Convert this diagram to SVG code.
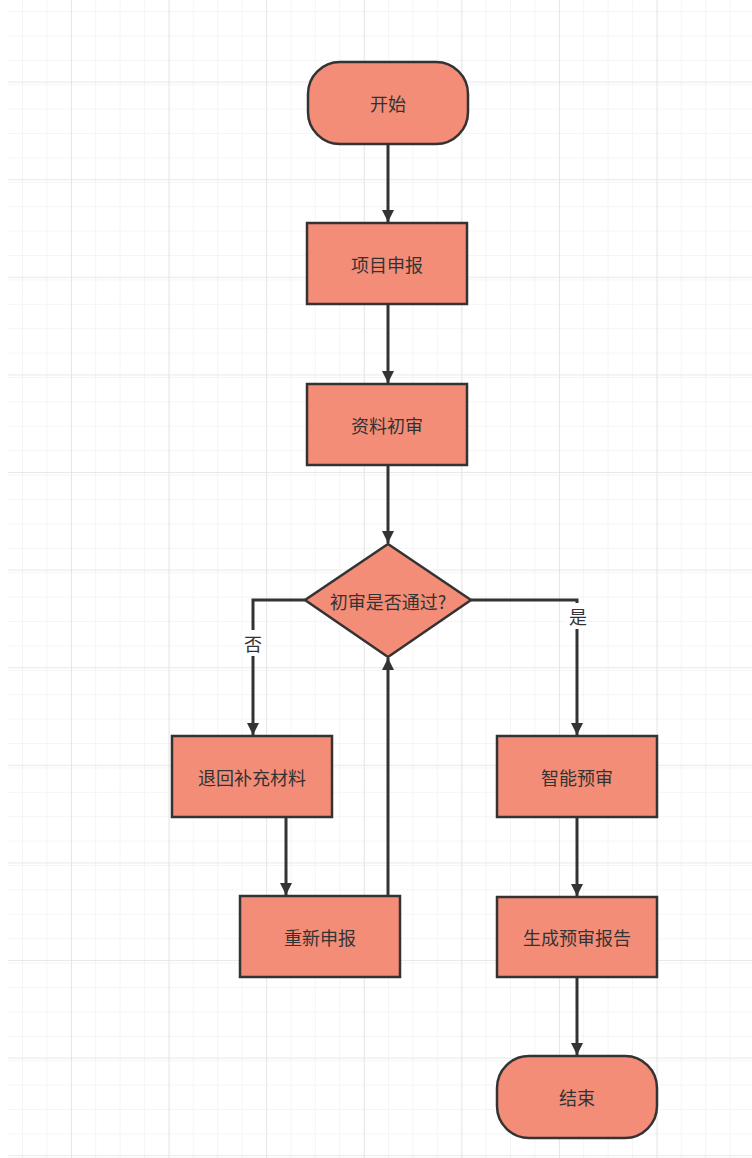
<svg xmlns="http://www.w3.org/2000/svg" width="752" height="1158" viewBox="0 0 752 1158">
<defs>
<pattern id="minor" x="-1.4" y="-12.4" width="24.4" height="24.4" patternUnits="userSpaceOnUse">
<path d="M24.4 0 V24.4 M0 24.4 H24.4" fill="none" stroke="#ececec" stroke-width="1"/>
</pattern>
<pattern id="major" x="-25.6" y="-15" width="97.6" height="97.6" patternUnits="userSpaceOnUse">
<path d="M97.6 0 V97.6 M0 97.6 H97.6" fill="none" stroke="#e2e2e2" stroke-width="1.5"/>
</pattern>
<marker id="arr" viewBox="0 0 12 20" refX="12" refY="10" markerWidth="12" markerHeight="20" markerUnits="userSpaceOnUse" orient="auto">
<path d="M0 4 L12 10 L0 16 Z" fill="#333"/>
</marker>
<style>
.n{fill:#F48D77;stroke:#333;stroke-width:2.5}
.t{font-family:"Noto Sans CJK SC","Liberation Sans",sans-serif;font-size:18px;fill:#333;text-anchor:middle;dominant-baseline:central}
.c{fill:none;stroke:#333;stroke-width:3}
</style>
</defs>
<rect width="752" height="1158" fill="#fff"/>
<rect x="8" y="0" width="744" height="1158" fill="url(#minor)"/>
<rect x="8" y="0" width="744" height="1158" fill="url(#major)"/>
<g id="connectors">
<path class="c" d="M388 144 V222" marker-end="url(#arr)"/>
<path class="c" d="M388 304 V383" marker-end="url(#arr)"/>
<path class="c" d="M388 465 V543" marker-end="url(#arr)"/>
<path class="c" d="M305 600 H253 V735" marker-end="url(#arr)"/>
<path class="c" d="M471 600 H577 V735" marker-end="url(#arr)"/>
<path class="c" d="M286 817 V895" marker-end="url(#arr)"/>
<path class="c" d="M388 896 V658" marker-end="url(#arr)"/>
<path class="c" d="M577 817 V896" marker-end="url(#arr)"/>
<path class="c" d="M577 977 V1055" marker-end="url(#arr)"/>
<rect x="242" y="630" width="22" height="26" fill="#fff"/>
<text class="t" x="253" y="643">否</text>
<rect x="566" y="603" width="22" height="26" fill="#fff"/>
<text class="t" x="578" y="616">是</text>
</g>
<g id="start"><rect class="n" x="308" y="62" width="160" height="82" rx="32"/><text class="t" x="388" y="103">开始</text></g>
<g id="apply"><rect class="n" x="307" y="223" width="160" height="81"/><text class="t" x="387" y="264">项目申报</text></g>
<g id="review"><rect class="n" x="307" y="384" width="160" height="81"/><text class="t" x="387" y="425">资料初审</text></g>
<g id="decision"><path class="n" d="M388 544 L471 600 L388 657 L305 600 Z"/><text class="t" x="388" y="601">初审是否通过?</text></g>
<g id="return"><rect class="n" x="172" y="736" width="160" height="81"/><text class="t" x="252" y="777">退回补充材料</text></g>
<g id="reapply"><rect class="n" x="240" y="896" width="160" height="81"/><text class="t" x="320" y="937">重新申报</text></g>
<g id="smart"><rect class="n" x="497" y="736" width="160" height="81"/><text class="t" x="577" y="777">智能预审</text></g>
<g id="report"><rect class="n" x="497" y="897" width="160" height="80"/><text class="t" x="577" y="937">生成预审报告</text></g>
<g id="end"><rect class="n" x="497" y="1056" width="160" height="82" rx="32"/><text class="t" x="577" y="1097">结束</text></g>
</svg>
